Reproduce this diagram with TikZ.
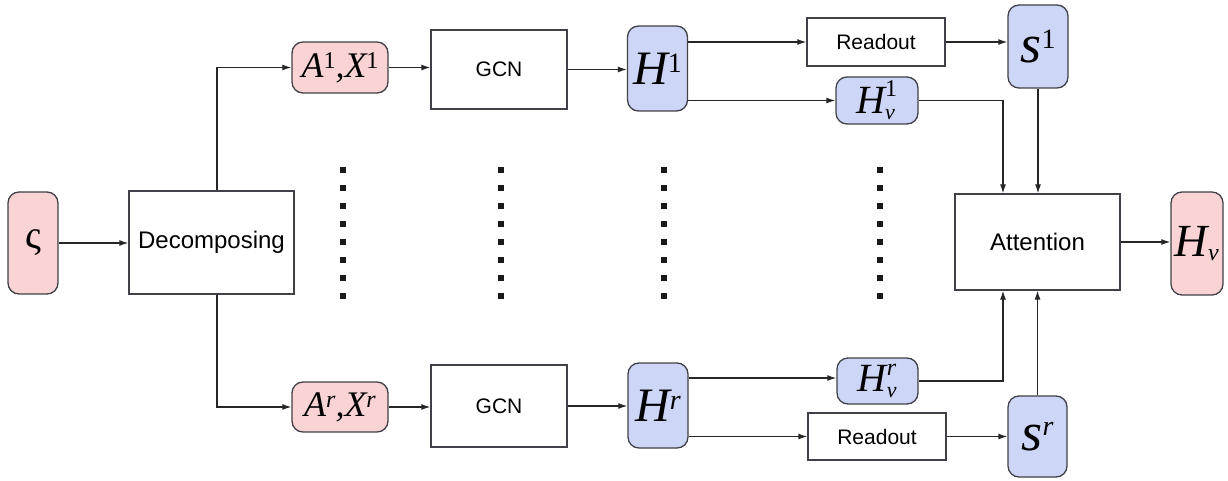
\documentclass[tikz,border=0pt]{standalone}
\usepackage{fontspec}
\setmainfont{Liberation Sans}
\newfontfamily\tnr{Liberation Serif}
\usetikzlibrary{arrows.meta}
\definecolor{pinkf}{RGB}{250,212,212}
\definecolor{bluef}{RGB}{206,214,247}
\definecolor{edge}{RGB}{64,64,72}
\newcommand{\fs}[1]{\fontsize{#1}{#1}\selectfont}
\begin{document}
\begin{tikzpicture}[x=1pt,y=-1pt,
  box/.style={draw=edge,line width=1.3pt,fill=white,inner sep=0pt,anchor=center},
  pinkbox/.style={box,fill=pinkf,rounded corners=11pt},
  bluebox/.style={box,fill=bluef,rounded corners=11pt},
  arr/.style={draw=black!85,line width=1.2pt,-{Latex[length=9pt,width=6pt]}},
  ln/.style={draw=black!85,line width=1.2pt}]
\useasboundingbox (0,0) rectangle (1228,481);
% nodes
\node[pinkbox,minimum width=50pt,minimum height=102pt] (sig) at (33,243) {\tnr\fs{40}ς};
\node[box,minimum width=165pt,minimum height=103pt] (dec) at (211.5,242.5) {\fs{24}Decomposing};
\node[pinkbox,minimum width=96pt,minimum height=51pt] (a1) at (340,67.5) {\tnr\fs{36}\itshape A\raisebox{0.55ex}{\upshape\fs{24}1},X\raisebox{0.55ex}{\upshape\fs{24}1}};
\node[box,minimum width=136pt,minimum height=79pt] (gcn1) at (499,69.5) {\fs{21}GCN};
\node[bluebox,minimum width=60pt,minimum height=85pt] (h1) at (657.5,68.5) {\tnr\fs{48}\itshape H\raisebox{0.55ex}{\upshape\fs{28}1}};
\node[box,minimum width=138pt,minimum height=48pt] (ro1) at (876,42) {\fs{21}Readout};
\node[bluebox,minimum width=82pt,minimum height=47pt] (hv1) at (877,100.5) {\tnr\fs{40}$\mbox{\itshape H}^{\mbox{\fs{24}1}}_{\mbox{\itshape\fs{22}v}}$};
\node[bluebox,minimum width=60pt,minimum height=83pt] (s1) at (1038,46.5) {\tnr\fs{54}\itshape s\raisebox{0.6ex}{\upshape\fs{28}1}};
\node[box,minimum width=165pt,minimum height=96pt] (att) at (1037.5,242) {\fs{24}Attention};
\node[pinkbox,minimum width=52pt,minimum height=103pt] (hv) at (1197,243.5) {\tnr\fs{46}$\mbox{\itshape H}_{\mbox{\itshape\fs{24}v}}$};
\node[pinkbox,minimum width=96pt,minimum height=50pt] (ar) at (340,407) {\tnr\fs{36}\itshape A\raisebox{0.55ex}{\fs{24}r},X\raisebox{0.55ex}{\fs{24}r}};
\node[box,minimum width=136pt,minimum height=82pt] (gcn2) at (499,406) {\fs{21}GCN};
\node[bluebox,minimum width=60pt,minimum height=85pt] (hr) at (658,405.5) {\tnr\fs{48}\itshape H\raisebox{0.55ex}{\fs{28}r}};
\node[bluebox,minimum width=81pt,minimum height=46pt] (hvr) at (877.5,381) {\tnr\fs{40}$\mbox{\itshape H}^{\mbox{\itshape\fs{24}r}}_{\mbox{\itshape\fs{22}v}}$};
\node[box,minimum width=138pt,minimum height=47pt] (ro2) at (877,436.5) {\fs{21}Readout};
\node[bluebox,minimum width=59pt,minimum height=81pt] (sr) at (1037.5,436.5) {\tnr\fs{54}\itshape s\raisebox{0.6ex}{\fs{28}r}};
% connectors
\draw[arr] (sig.east) -- (sig.east -| dec.west);
\draw[arr] ([xshift=5.5pt]dec.north) |- (a1.west);
\draw[arr] ([xshift=5.5pt]dec.south) |- (ar.west);
\draw[arr] (a1.east) -- (a1.east -| gcn1.west);
\draw[arr] (gcn1.east) -- (gcn1.east -| h1.west);
\draw[arr] (h1.east |- ro1.west) -- (ro1.west);
\draw[arr] (h1.east |- hv1.west) -- (hv1.west);
\draw[arr] (ro1.east) -- (ro1.east -| s1.west);
\draw[arr] (hv1.east) -| ([xshift=-34.5pt]att.north);
\draw[arr] (s1.south) -- (s1.south |- att.north);
\draw[arr] (att.east) -- (att.east -| hv.west);
\draw[arr] (ar.east) -- (ar.east -| gcn2.west);
\draw[arr] (gcn2.east) -- (gcn2.east -| hr.west);
\draw[arr] ([yshift=3pt]hr.east |- hvr.west) -- ([yshift=3pt]hvr.west);
\draw[arr] (hr.east |- ro2.west) -- (ro2.west);
\draw[arr] (ro2.east) -- (ro2.east -| sr.west);
\draw[arr] (hvr.east) -| ([xshift=-34.5pt]att.south);
\draw[arr] (sr.north) -- (sr.north |- att.south);
% dots
\foreach \x in {343,501,664,880}
  \foreach \k in {0,...,7}
    \fill[black!90] ({\x-3},{170+18*\k-3}) rectangle ({\x+3},{170+18*\k+3});
\end{tikzpicture}
\end{document}
